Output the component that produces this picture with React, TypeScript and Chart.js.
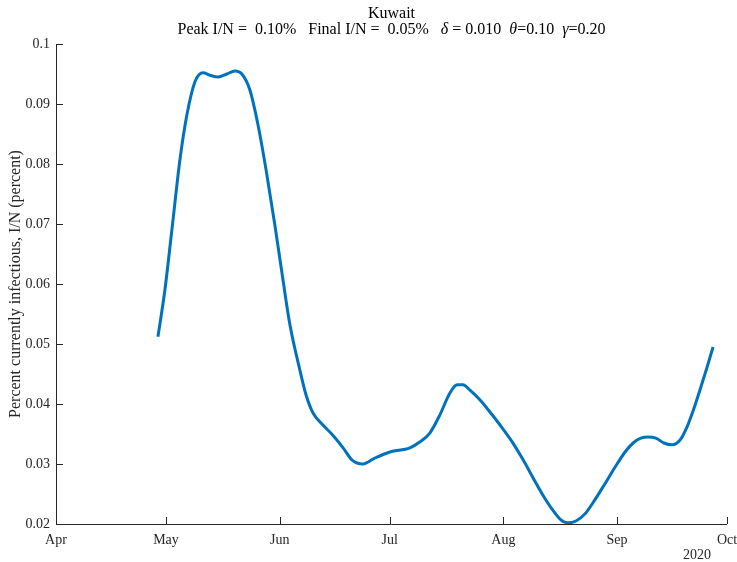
import React, { useEffect, useRef } from "react";
import { Chart, registerables } from "chart.js";

Chart.register(...registerables);

// Days since 1 April 2020
const dayValues = [
  27.8, 29.7, 31.6, 33.8, 35.7, 37.9, 40.1, 42.0, 44.2, 46.6, 48.8, 50.7, 52.9, 55.1, 57.3, 59.7,
  61.9, 63.8, 66.5, 68.2, 70.1, 72.8, 75.5, 78.3, 80.7, 83.7, 87.0, 91.1, 96.5, 99.3, 102.0, 104.7,
  107.4, 109.4, 111.0, 112.9, 115.6, 118.3, 121.1, 124.4, 127.4, 130.1, 132.8, 135.5, 137.7, 139.6,
  141.8, 144.3, 146.4, 149.5, 152.5, 155.2, 157.4, 159.5, 161.5, 163.6, 165.8, 168.0, 170.2, 172.1,
  174.0, 175.6, 177.5, 179.2,
];
const infectiousPercent = [
  0.0512, 0.059, 0.069, 0.0807, 0.0882, 0.0937, 0.0952, 0.0948, 0.0945, 0.095, 0.0955, 0.095, 0.0923,
  0.0865, 0.079, 0.0698, 0.0607, 0.0532, 0.0457, 0.0415, 0.0385, 0.0365, 0.0348, 0.0327, 0.0307, 0.03,
  0.031, 0.032, 0.0327, 0.0337, 0.0352, 0.0382, 0.0418, 0.0432, 0.0432, 0.0423, 0.0407, 0.0387, 0.0365,
  0.0337, 0.0307, 0.0277, 0.0248, 0.0223, 0.0207, 0.0202, 0.0205, 0.0217, 0.0235, 0.0265, 0.0295, 0.032,
  0.0335, 0.0343, 0.0345, 0.0343, 0.0335, 0.0332, 0.034, 0.0362, 0.0393, 0.0423, 0.046, 0.0495,
];
const monthTickDays = [0, 30, 61, 91, 122, 153, 183];
const monthTickLabels = ["Apr", "May", "Jun", "Jul", "Aug", "Sep", "Oct"];
const yTickValues = [0.02, 0.03, 0.04, 0.05, 0.06, 0.07, 0.08, 0.09, 0.1];

const FONT = "'Liberation Serif', 'DejaVu Serif', serif";
const AXIS_COLOR = "#262626";

const axesPlugin = {
  id: "matlabAxes",
  afterDraw(chart: any) {
    const { ctx, chartArea } = chart;
    const xs = chart.scales.x;
    const ys = chart.scales.y;
    const { left, right, top, bottom } = chartArea;
    ctx.save();
    ctx.strokeStyle = AXIS_COLOR;
    ctx.lineWidth = 1;
    ctx.beginPath();
    ctx.moveTo(left + 0.5, top);
    ctx.lineTo(left + 0.5, bottom + 0.5);
    ctx.lineTo(right, bottom + 0.5);
    ctx.stroke();
    ctx.beginPath();
    for (const t of ys.ticks) {
      const py = Math.round(ys.getPixelForValue(t.value)) + 0.5;
      ctx.moveTo(left, py);
      ctx.lineTo(left + 7, py);
    }
    for (const t of xs.ticks) {
      const px = Math.round(xs.getPixelForValue(t.value)) + 0.5;
      ctx.moveTo(px, bottom);
      ctx.lineTo(px, bottom - 7);
    }
    ctx.stroke();

    // year label
    ctx.fillStyle = AXIS_COLOR;
    ctx.font = `14px ${FONT}`;
    ctx.textAlign = "center";
    ctx.textBaseline = "middle";
    ctx.fillText("2020", 697, 555);

    // titles
    const cx = (left + right) / 2;
    ctx.fillStyle = "#000";
    ctx.font = `16px ${FONT}`;
    ctx.fillText("Kuwait", cx, 14);
    const segs: [string, boolean][] = [
      ["Peak I/N =  0.10%   Final I/N =  0.05%   ", false],
      ["δ", true],
      [" = 0.010  ", false],
      ["θ", true],
      ["=0.10  ", false],
      ["γ", true],
      ["=0.20", false],
    ];
    let total = 0;
    const widths = segs.map(([s, it]) => {
      ctx.font = `${it ? "italic " : ""}16px ${FONT}`;
      const w = ctx.measureText(s).width;
      total += w;
      return w;
    });
    let x = cx - total / 2;
    ctx.textAlign = "left";
    segs.forEach(([s, it], i) => {
      ctx.font = `${it ? "italic " : ""}16px ${FONT}`;
      ctx.fillText(s, x, 30);
      x += widths[i];
    });
    ctx.restore();
  },
};

export default function App() {
  const ref = useRef<HTMLCanvasElement | null>(null);
  useEffect(() => {
    if (!ref.current) return;
    const chart = new Chart(ref.current, {
      type: "line",
      data: {
        datasets: [
          {
            data: dayValues.map((d, i) => ({ x: d, y: infectiousPercent[i] })),
            borderColor: "#0072BD",
            borderWidth: 3,
            pointRadius: 0,
            fill: false,
            cubicInterpolationMode: "monotone",
          },
        ],
      },
      options: {
        animation: false,
        responsive: false,
        layout: { padding: { top: 44, right: 10, bottom: 0, left: 0 } },
        plugins: { legend: { display: false }, tooltip: { enabled: false }, title: { display: false } },
        scales: {
          x: {
            type: "linear",
            min: 0,
            max: 183,
            grid: { display: false, drawTicks: false },
            border: { display: false },
            afterBuildTicks: (s: any) => {
              s.ticks = monthTickDays.map((v) => ({ value: v }));
            },
            afterFit: (s: any) => {
              s.height = 38;
              s.paddingLeft = 0;
              s.paddingRight = 0;
            },
            ticks: {
              maxRotation: 0,
              autoSkip: false,
              padding: 8,
              color: AXIS_COLOR,
              font: { family: FONT, size: 14 },
              callback: (_v: any, i: number) => monthTickLabels[i],
            },
          },
          y: {
            min: 0.02,
            max: 0.1,
            grid: { display: false, drawTicks: false },
            border: { display: false },
            afterBuildTicks: (s: any) => {
              s.ticks = yTickValues.map((v) => ({ value: v }));
            },
            afterFit: (s: any) => {
              s.width = 56;
            },
            title: {
              display: true,
              text: "Percent currently infectious, I/N (percent)",
              color: AXIS_COLOR,
              font: { family: FONT, size: 16 },
              padding: { top: 6, bottom: 0 },
            },
            ticks: {
              padding: 6,
              color: AXIS_COLOR,
              font: { family: FONT, size: 14 },
              callback: (v: any) => String(Number(Number(v).toFixed(2))),
            },
          },
        },
      },
      plugins: [axesPlugin],
    } as any);
    return () => chart.destroy();
  }, []);
  return (
    <div style={{ position: "fixed", left: 0, top: 0, width: 737, height: 562, background: "#fff" }}>
      <canvas ref={ref} width={737} height={562} style={{ width: 737, height: 562 }} />
    </div>
  );
}
